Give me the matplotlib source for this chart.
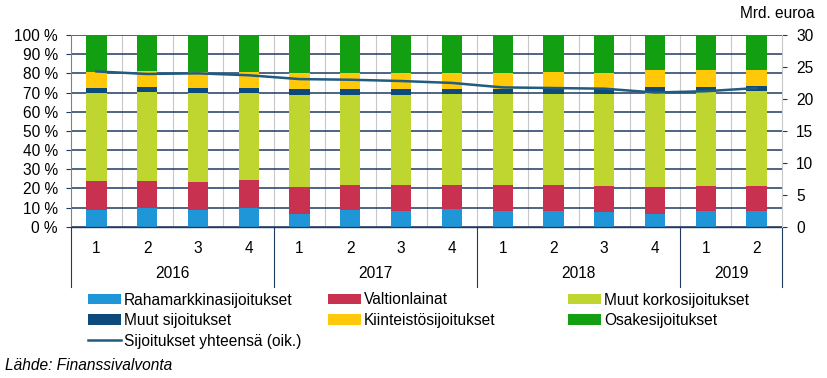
import numpy as np
import matplotlib
matplotlib.use("Agg")
import matplotlib.pyplot as plt
from matplotlib.transforms import blended_transform_factory

plt.rcParams['font.family'] = ['Liberation Sans', 'DejaVu Sans']

quarters = ['1', '2', '3', '4', '1', '2', '3', '4', '1', '2', '3', '4', '1', '2']
years = ['2016', '2017', '2018', '2019']
year_counts = [4, 4, 4, 2]

# osuudet, %
raha = [8.7, 9.9, 8.7, 9.9, 6.5, 8.7, 8.3, 9.1, 8.3, 8.3, 7.5, 6.6, 8.3, 8.3]
valtion = [15.1, 13.9, 14.6, 14.5, 14.4, 13.1, 13.5, 12.7, 13.5, 13.5, 13.7, 14.3, 12.9, 12.9]
muut_korko = [46.1, 46.6, 46.6, 45.5, 47.8, 47.1, 47.1, 47.4, 47.4, 47.3, 47.9, 49.5, 49.2, 49.7]
muut_sij = [2.5, 2.6, 2.5, 2.5, 3.1, 2.9, 2.9, 2.6, 2.6, 3.3, 3.1, 2.6, 2.3, 2.5]
kiint = [8.5, 8.4, 8.1, 8.5, 8.5, 8.2, 8.5, 8.5, 8.2, 8.5, 8.1, 8.7, 9.0, 8.3]
osake = [19.1, 18.6, 19.5, 19.1, 19.7, 20.0, 19.7, 19.7, 20.0, 19.1, 19.7, 18.3, 18.3, 18.3]

# sijoitukset yhteensä, mrd. euroa
yhteensa = [24.3, 23.9, 24.0, 23.7, 23.1, 23.0, 22.8, 22.5, 21.8, 21.7, 21.6, 21.0, 21.2, 21.7]

pct_labels = ['0 %', '10 %', '20 %', '30 %', '40 %', '50 %', '60 %', '70 %', '80 %', '90 %', '100 %']

series = [
    ('Rahamarkkinasijoitukset', raha, '#1E96D7'),
    ('Valtionlainat', valtion, '#C8314F'),
    ('Muut korkosijoitukset', muut_korko, '#BFD630'),
    ('Muut sijoitukset', muut_sij, '#0D4A7C'),
    ('Kiinteistösijoitukset', kiint, '#FFC90A'),
    ('Osakesijoitukset', osake, '#12A012'),
]

fs = 11.2
navy = '#1F3A5F'

fig = plt.figure(figsize=(8.27, 3.78), dpi=100)
ax = fig.add_axes([71/827, 1-226.7/378, (782-71)/827, (226.7-35)/378])
x = np.arange(len(quarters))

bottom = np.zeros(len(x))
handles = {}
for name, vals, col in series:
    b = ax.bar(x, vals, 0.4, bottom=bottom, color=col, label=name, zorder=2)
    handles[name] = b
    bottom += np.array(vals)

ax.set_xlim(-0.5, len(x) - 0.5)
ax.set_ylim(0, 100)
ax.set_yticks(np.arange(0, 101, 10))
ax.set_yticklabels(pct_labels, fontsize=fs)
ax.set_xticks(x)
ax.set_xticklabels(quarters, fontsize=fs)
ax.tick_params(axis='x', length=0, pad=10)
ax.tick_params(axis='y', length=3.6, width=0.8, color=navy, pad=6)
ax.set_xticks(np.arange(0.5, len(x) - 1, 1), minor=True)
ax.tick_params(axis='x', which='minor', length=0)
ax.set_axisbelow(True)
ax.grid(axis='y', color=navy, linewidth=1.1)
ax.grid(axis='x', which='minor', color='#C8C8C8', linewidth=0.8)
ax.spines['top'].set_visible(False)
ax.spines['right'].set_visible(False)
ax.spines['left'].set_color('#808080')
ax.spines['left'].set_linewidth(0.8)
ax.spines['bottom'].set_color(navy)
ax.spines['bottom'].set_linewidth(1.0)

ax2 = ax.twinx()
line, = ax2.plot(x, yhteensa, color='#1F5C80', linewidth=1.8, label='Sijoitukset yhteensä (oik.)')
ax2.set_ylim(0, 30)
ax2.set_yticks(np.arange(0, 31, 5))
ax2.tick_params(axis='y', length=3.6, width=0.8, color=navy, pad=6.5, labelsize=fs)
for s in ['top', 'left', 'bottom']:
    ax2.spines[s].set_visible(False)
ax2.spines['right'].set_color('#C8C8C8')
ax2.spines['right'].set_linewidth(0.8)

# vuosiryhmät
tr = blended_transform_factory(ax.transData, ax.transAxes)
sep_bottom = -(287 - 226.7) / (226.7 - 35)
year_y = -(273 - 226.7) / (226.7 - 35)
start = -0.5
ax.plot([start, start], [0, sep_bottom], color=navy, linewidth=0.8, transform=tr, clip_on=False)
for yr, n in zip(years, year_counts):
    end = start + n
    ax.plot([end, end], [0, sep_bottom], color=navy, linewidth=0.8, transform=tr, clip_on=False)
    ax.text((start + end) / 2, year_y, yr, transform=tr, ha='center', va='center', fontsize=fs)
    start = end

# selite kolmessa sarakkeessa
cols = [
    ['Rahamarkkinasijoitukset', 'Muut sijoitukset'],
    ['Valtionlainat', 'Kiinteistösijoitukset'],
    ['Muut korkosijoitukset', 'Osakesijoitukset'],
]
col_x = [88, 328, 568]
for names, cx in zip(cols, col_x):
    h = [handles[n] for n in names]
    labs = list(names)
    if cx == 88:
        h.append(line)
        labs.append('Sijoitukset yhteensä (oik.)')
    fig.legend(h, labs, loc='upper left', bbox_to_anchor=(cx/827, 1 - 292.5/378),
               frameon=False, fontsize=fs, ncol=1, borderpad=0, borderaxespad=0,
               handlelength=2.1, handleheight=0.65, handletextpad=0.2, labelspacing=0.36)

fig.text(815/827, 1 - 13/378, 'Mrd. euroa', ha='right', va='center', fontsize=fs)
fig.text(5/827, 1 - 366/378, 'Lähde: Finanssivalvonta', ha='left', va='center',
         fontsize=fs, style='italic')

fig.savefig('out.png', dpi=100)
